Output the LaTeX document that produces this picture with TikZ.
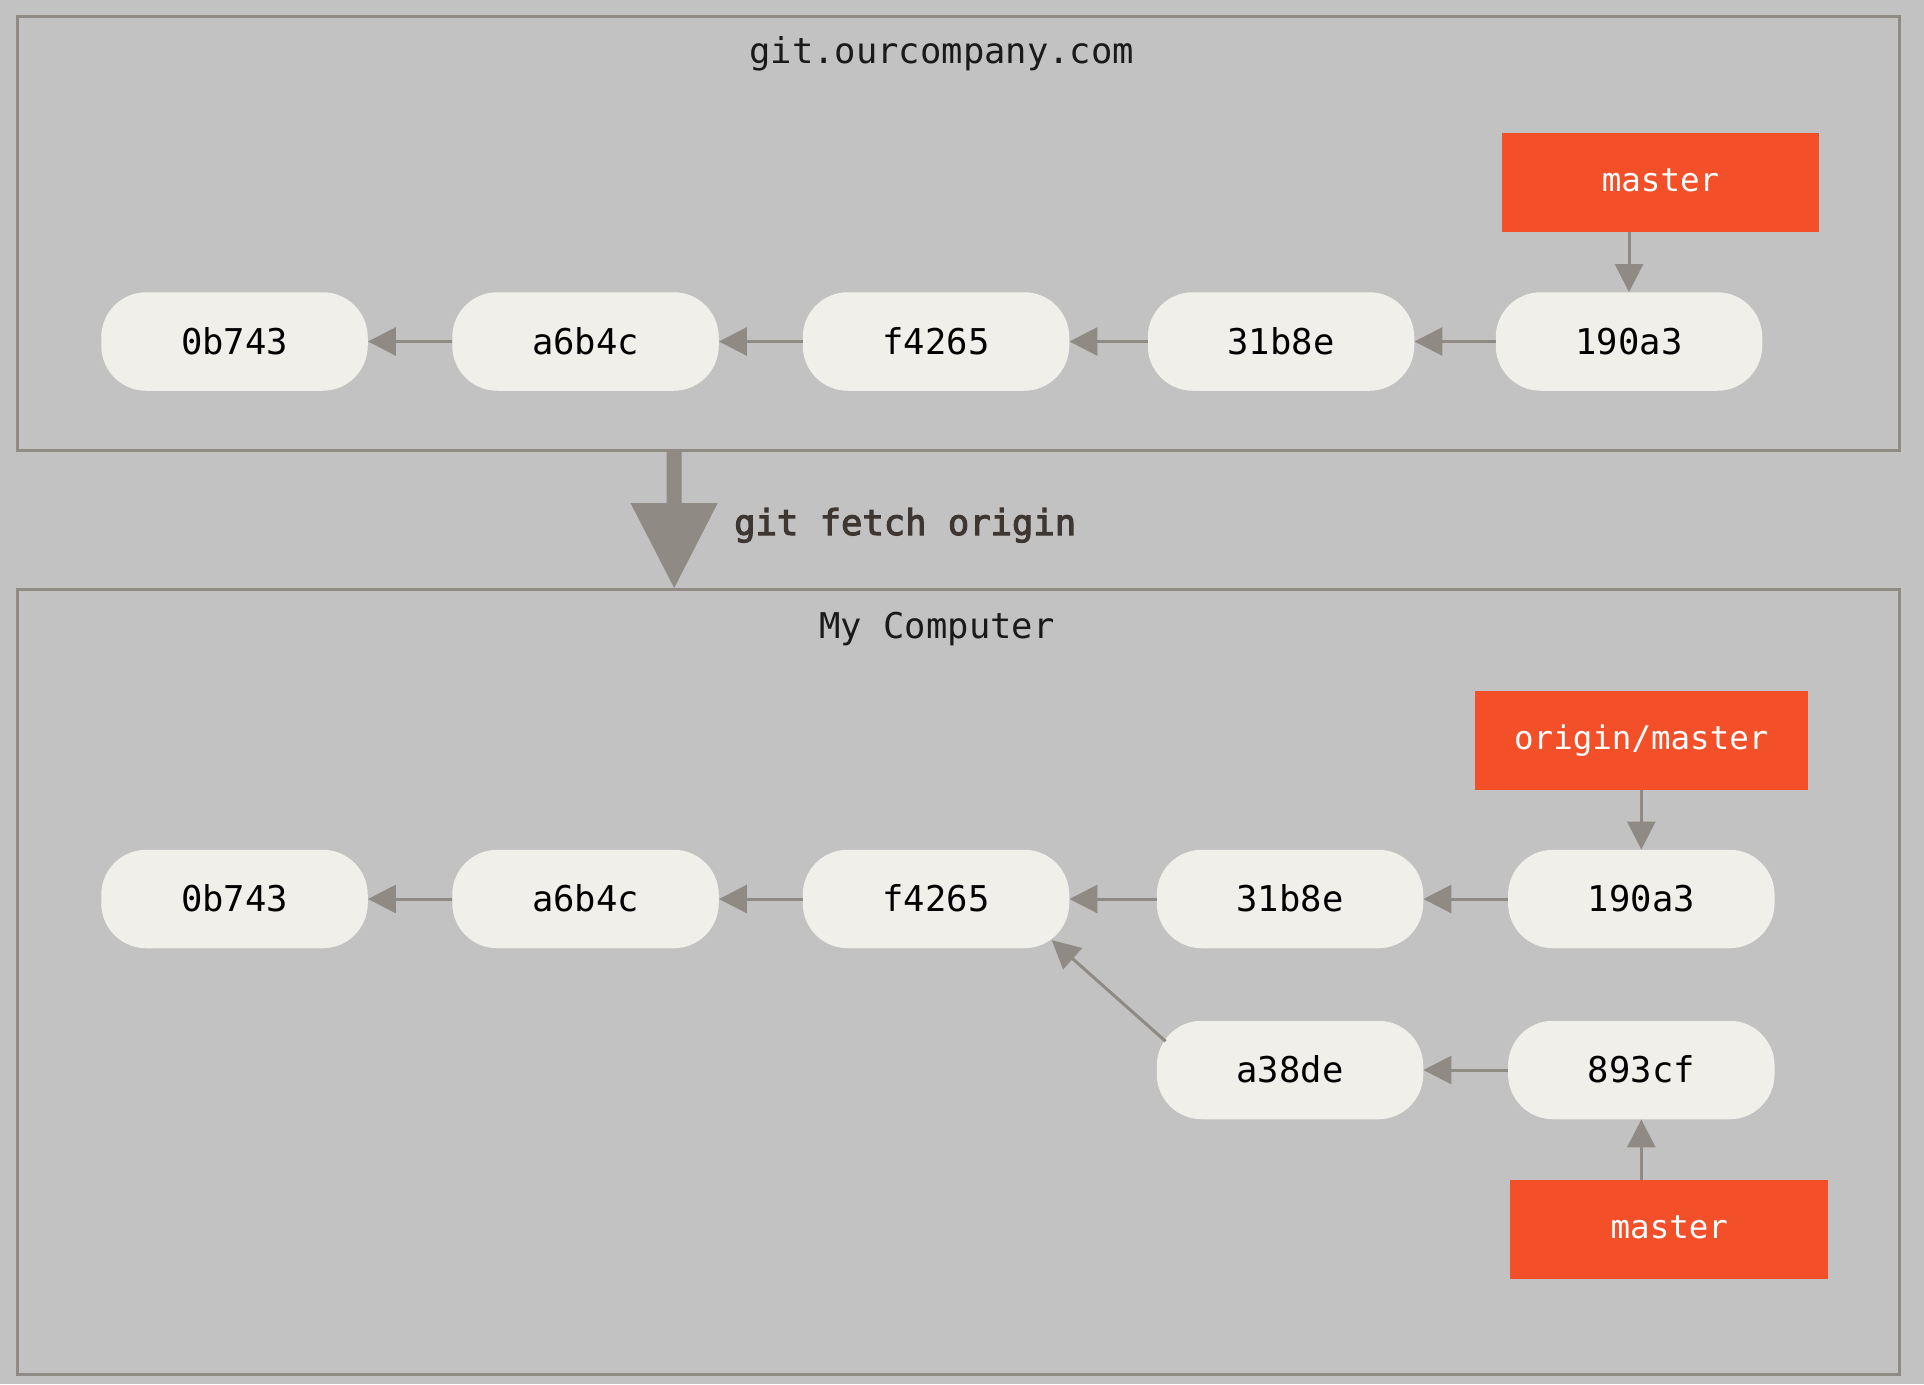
\documentclass[tikz,border=0pt]{standalone}
\usepackage{fontspec}
\setmonofont{DejaVu Sans Mono}
\newfontfamily\fetchfont{DejaVu Sans Mono}[FakeBold=3]
\usetikzlibrary{arrows.meta,calc}
\definecolor{bg}{HTML}{C2C2C2}
\definecolor{commitfill}{HTML}{F0EFE9}
\definecolor{gitorange}{HTML}{F34F29}
\definecolor{linegray}{HTML}{8F8A83}
\definecolor{fetchtext}{HTML}{3E3630}
\definecolor{titletext}{HTML}{1A1A1A}
\begin{document}
\begin{tikzpicture}[x=1pt,y=-1pt,
  commit/.style={fill=commitfill, rounded corners=45pt, minimum width=266.5pt,
    minimum height=98.5pt, inner sep=0pt, font=\ttfamily\fontsize{35.5}{40}\selectfont,
    text height=25.9pt, text depth=0pt, text=black},
  branch/.style={fill=gitorange, minimum height=98.5pt, inner sep=0pt,
    font=\ttfamily\fontsize{32.5}{38}\selectfont, text height=17.7pt, text depth=0pt,
    text=white},
  arr/.style={draw=linegray, line width=3pt, -{Triangle[length=28pt,width=28pt]}},
  frame/.style={draw=linegray, line width=3pt},
  title/.style={font=\ttfamily\fontsize{35.5}{40}\selectfont, anchor=base,
    inner sep=0pt, text=titletext}]
\fill[bg] (0,0) rectangle (1924,1384);
\useasboundingbox (0,0) rectangle (1924,1384);

% frames
\draw[frame] (17.5,16) rectangle (1899,450.5);
\draw[frame] (17.5,589) rectangle (1899,1374.5);

% fetch arrow
\fill[linegray] (666.7,450.5) -- (681.7,450.5) -- (681.7,503) -- (717.7,503)
  -- (674.2,588) -- (630.5,503) -- (666.7,503) -- cycle;
\node[anchor=base west, inner sep=0pt, text=fetchtext,
  font=\fetchfont\fontsize{35.5}{40}\selectfont] (fetch) at (734,535) {git fetch origin};

% titles
\node[title] (remote) at (941.7,63.5) {git.ourcompany.com};
\node[title] (local) at (937,638) {My Computer};

% remote repository
\node[commit] (r1) at (234.5,341.5) {0b743};
\node[commit] (r2) at (585.5,341.5) {a6b4c};
\node[commit] (r3) at (936,341.5) {f4265};
\node[commit] (r4) at (1281,341.5) {31b8e};
\node[commit] (r5) at (1629,341.5) {190a3};
\node[branch, minimum width=317pt] (rmaster) at (1660.5,182.4) {master};

\draw[arr] (r2) -- (r1);
\draw[arr] (r3) -- (r2);
\draw[arr] (r4) -- (r3);
\draw[arr] (r5) -- (r4);
\draw[arr] (rmaster.south -| r5.north) -- (r5.north);

% local repository
\node[commit] (l1) at (234.5,899) {0b743};
\node[commit] (l2) at (585.5,899) {a6b4c};
\node[commit] (l3) at (936,899) {f4265};
\node[commit] (l4) at (1290,899) {31b8e};
\node[commit] (l5) at (1641.3,899) {190a3};
\node[commit] (l6) at (1290,1070) {a38de};
\node[commit] (l7) at (1641.3,1070) {893cf};
\node[branch, minimum width=332.7pt] (origmaster) at (1641.3,740.3) {origin/master};
\node[branch, minimum width=317.7pt] (lmaster) at (1669.3,1229.5) {master};

\draw[arr] (l2) -- (l1);
\draw[arr] (l3) -- (l2);
\draw[arr] (l4) -- (l3);
\draw[arr] (l5) -- (l4);
\draw[arr] (l7) -- (l6);
\draw[arr] ($(l6.north west)+(9,20.7)$) -- ($(l3.south east)+(-17.7,-8.3)$);
\draw[arr] (origmaster.south -| l5.north) -- (l5.north);
\draw[arr] (lmaster.north -| l7.south) -- (l7.south);
\end{tikzpicture}
\end{document}
